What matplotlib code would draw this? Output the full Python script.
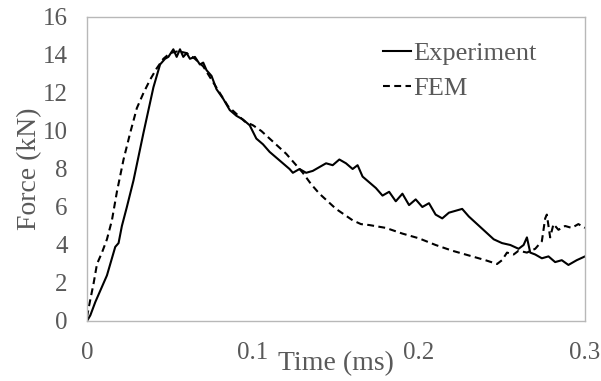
import matplotlib.pyplot as plt

# Experiment curve (time in ms, force in kN)
exp_t = [0.0, 0.002, 0.005, 0.008, 0.012, 0.015, 0.017, 0.019, 0.021, 0.024, 0.026, 0.028,
         0.034, 0.040, 0.044, 0.047, 0.049, 0.052, 0.054, 0.056, 0.058, 0.060, 0.062, 0.065,
         0.068, 0.070, 0.072, 0.075, 0.078, 0.082, 0.086, 0.090, 0.094, 0.098, 0.102, 0.106,
         0.110, 0.114, 0.118, 0.122, 0.124, 0.128, 0.132, 0.136, 0.140, 0.144, 0.148, 0.152,
         0.156, 0.160, 0.163, 0.166, 0.170, 0.174, 0.178, 0.182, 0.186, 0.190, 0.194, 0.198,
         0.202, 0.206, 0.210, 0.214, 0.218, 0.222, 0.226, 0.230, 0.235, 0.240, 0.245, 0.250,
         0.255, 0.260, 0.263, 0.265, 0.267, 0.270, 0.274, 0.278, 0.282, 0.286, 0.290, 0.295,
         0.300]
exp_f = [0.0, 0.3, 1.0, 1.6, 2.4, 3.3, 3.9, 4.1, 5.0, 6.0, 6.7, 7.4,
         9.9, 12.3, 13.5, 13.8, 13.9, 14.3, 13.9, 14.3, 13.9, 14.1, 13.8, 13.9,
         13.5, 13.6, 13.2, 12.9, 12.2, 11.7, 11.1, 10.8, 10.6, 10.3, 9.6, 9.3,
         8.9, 8.6, 8.3, 8.0, 7.8, 8.0, 7.8, 7.9, 8.1, 8.3, 8.2, 8.5,
         8.3, 8.0, 8.2, 7.6, 7.3, 7.0, 6.6, 6.8, 6.3, 6.7, 6.1, 6.4,
         6.0, 6.2, 5.6, 5.4, 5.7, 5.8, 5.9, 5.5, 5.1, 4.7, 4.3, 4.1,
         4.0, 3.8, 4.0, 4.4, 3.6, 3.5, 3.3, 3.4, 3.1, 3.2, 2.95, 3.2,
         3.4]

# FEM curve
fem_t = [0.0, 0.001, 0.004, 0.006, 0.009, 0.012, 0.015, 0.018, 0.022, 0.026, 0.030, 0.034,
         0.038, 0.042, 0.046, 0.050, 0.055, 0.060, 0.065, 0.070, 0.075, 0.080, 0.085, 0.090,
         0.095, 0.100, 0.105, 0.110, 0.115, 0.120, 0.125, 0.130, 0.135, 0.140, 0.145, 0.150,
         0.155, 0.160, 0.165, 0.170, 0.180, 0.190, 0.200, 0.210, 0.220, 0.230, 0.240, 0.247,
         0.250, 0.253, 0.257, 0.260, 0.265, 0.270, 0.274, 0.276, 0.277, 0.279, 0.281, 0.284,
         0.288, 0.292, 0.296, 0.300]
fem_f = [0.2, 0.7, 2.0, 3.0, 3.6, 4.3, 5.3, 6.8, 8.5, 9.9, 11.2, 12.0,
         12.7, 13.3, 13.8, 14.1, 14.2, 14.1, 13.8, 13.4, 12.7, 12.0, 11.3, 10.9,
         10.5, 10.3, 10.0, 9.6, 9.2, 8.8, 8.3, 7.8, 7.2, 6.7, 6.3, 5.9,
         5.6, 5.3, 5.1, 5.05, 4.9, 4.6, 4.35, 4.0, 3.7, 3.45, 3.2, 3.0,
         3.2, 3.6, 3.5, 3.7, 3.6, 3.8, 4.2, 5.4, 5.6, 4.4, 5.1, 4.8,
         5.0, 4.9, 5.1, 4.9]

x_ticks = [0, 0.1, 0.2, 0.3]
x_tick_labels = ['0', '0.1', '0.2', '0.3']
y_ticks = [0, 2, 4, 6, 8, 10, 12, 14, 16]

plt.rcParams['font.family'] = ['Liberation Serif', 'DejaVu Serif']
text_color = '#595959'
frame_color = '#b8b8b8'

fig = plt.figure(figsize=(6.01, 3.81), dpi=100)
ax = fig.add_axes([0.1448, 0.1575, 0.8286, 0.7979])

ax.plot(exp_t, exp_f, color='black', lw=1.5, label='Experiment')
ax.plot(fem_t, fem_f, color='black', lw=1.5, dashes=(3.3, 2.1), label='FEM')

ax.set_xlim(0, 0.3)
ax.set_ylim(0, 16)
ax.set_xticks(x_ticks)
ax.set_xticklabels(x_tick_labels)
ax.set_yticks(y_ticks)
ax.tick_params(axis='both', length=0, labelsize=18, colors=text_color)
ax.tick_params(axis='x', pad=15)
ax.tick_params(axis='y', pad=14)

for side in ['left', 'right', 'top', 'bottom']:
    ax.spines[side].set_color(frame_color)
    ax.spines[side].set_linewidth(1.0)

ax.set_xlabel('Time (ms)', fontsize=20, color=text_color)
ax.xaxis.set_label_coords(0.5, -0.1)
ax.set_ylabel('Force (kN)', fontsize=20, color=text_color)
ax.yaxis.set_label_coords(-0.09, 0.5)

leg = ax.legend(loc='upper left', bbox_to_anchor=(0.594, 0.92), frameon=False,
                fontsize=19, handlelength=1.05, handletextpad=0.1,
                labelspacing=0.45, borderpad=0, borderaxespad=0)
for t in leg.get_texts():
    t.set_color(text_color)

fig.savefig('out.png', dpi=100)
